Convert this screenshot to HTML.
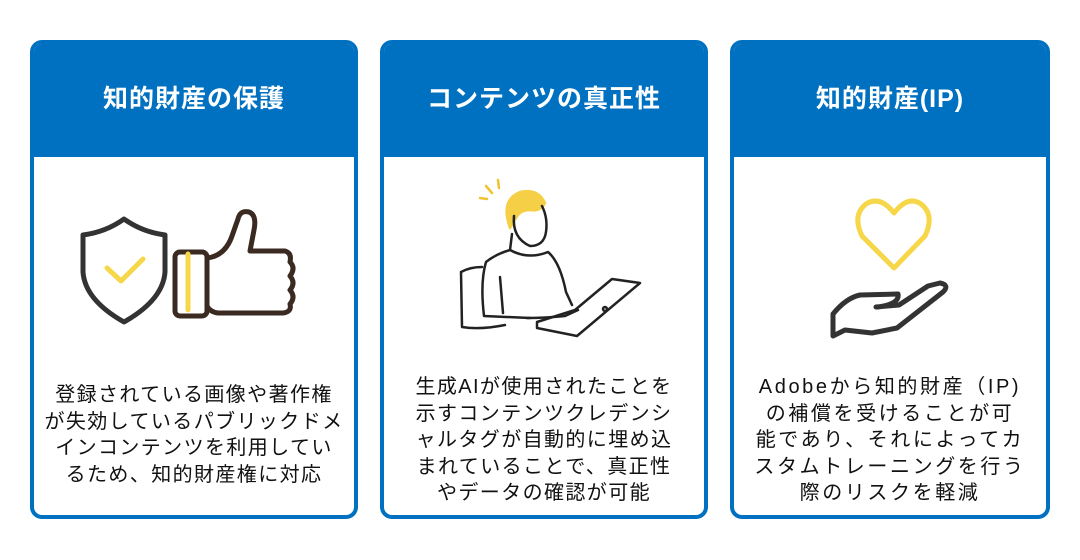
<!DOCTYPE html>
<html><head><meta charset="utf-8"><style>
body{margin:0;width:1080px;height:560px;background:#fff;position:relative;overflow:hidden;font-family:"Liberation Sans","Noto Sans CJK JP",sans-serif;}
.card{position:absolute;top:40px;width:328px;height:479px;box-sizing:border-box;border:4px solid #0070c0;border-radius:12px;background:#fff;overflow:hidden;}
.hd{position:absolute;left:0;top:0;right:0;height:113px;background:#0070c0;color:#fff;font-weight:bold;font-size:25px;text-align:center;line-height:110px;letter-spacing:1px;}
.tx{position:absolute;left:-10px;right:-10px;top:334px;text-align:center;font-size:20px;line-height:26.5px;color:#111;letter-spacing:1.4px;}
svg{position:absolute;}
</style></head><body>
<div class="card" style="left:30px"><div class="hd">知的財産の保護</div>
<div class="tx" style="top:338px">登録されている画像や著作権<br>が失効しているパブリックドメ<br>インコンテンツを利用してい<br>るため、知的財産権に対応</div></div>
<div class="card" style="left:380px"><div class="hd">コンテンツの真正性</div>
<div class="tx" style="top:330px">生成AIが使用されたことを<br>示すコンテンツクレデンシ<br>ャルタグが自動的に埋め込<br>まれていることで、真正性<br>やデータの確認が可能</div></div>
<div class="card" style="left:730px;width:320px"><div class="hd">知的財産(IP)</div>
<div class="tx" style="top:330px;letter-spacing:2.6px">Adobeから知的財産（IP)<br>の補償を受けることが可<br>能であり、それによってカ<br>スタムトレーニングを行う<br>際のリスクを軽減</div></div>

<svg width="1080" height="560" style="left:0;top:0" fill="none" stroke-linecap="round" stroke-linejoin="round">
<path d="M124 219 Q106 232 83 235 L83 272 Q85 300 124 322 Q163 300 165 272 L165 235 Q142 232 124 219Z" stroke="#333" stroke-width="5"/>
<path d="M107 268 L121 281 L143 259" stroke="#f7d74a" stroke-width="5"/>
<rect x="175" y="252" width="32" height="64" rx="5" stroke="#3a2a22" stroke-width="5"/>
<path d="M188 254 V310" stroke="#f7d74a" stroke-width="5"/>
<path d="M207 258 Q225 256 232 236 L238 219 Q240 210 249 212 Q257 215 254 230 L250 251 L285 251 Q292 253 290 262 Q296 268 290 276 Q296 283 290 290 Q296 297 290 304 Q292 312 283 313 L218 313 Q210 312 207 306" stroke="#3a2a22" stroke-width="5"/>
<g stroke="#222" stroke-width="2.5">
<path d="M492 193 L486 186 M499 188 L498 180 M487 199 L480 198" stroke="#f2c230"/>
<path d="M510 228 Q500 200 520 192 Q538 188 545 203 Q540 212 530 210 Q520 210 516 218 Z" fill="#f5cf45" stroke="#f5cf45"/>
<path d="M514 216 Q512 238 530 246 Q544 246 546 232 Q548 218 542 206"/>
<path d="M512 234 L510 250 Q496 254 486 262 Q480 282 484 316 L530 318"/>
<path d="M510 250 Q528 260 548 252 Q560 262 566 292 L572 305"/>
<path d="M461 272 L462 327 Q480 330 505 325 M461 272 Q470 267 482 267"/>
<path d="M500 277 L503 313 M527 318 Q545 318 565 316 L578 310"/>
<path d="M537 328 L577 336 L640 283 L612 279 L575 310 L537 322 Z"/>
<circle cx="605" cy="309" r="2"/>
</g>
<path d="M894 213 Q880 195 866 204 Q852 215 862 236 L894 268 L925 236 Q935 215 921 204 Q908 195 894 213" stroke="#f7d74a" stroke-width="5"/>
<path d="M833 314 L833 336 L845 330 L872 333 L897 328 L943 292 Q950 285 940 283 L928 286 L899 305 L876 307 M878 307 Q900 304 898 294 L860 295 Q846 298 833 314" stroke="#333" stroke-width="5"/>
</svg>
</body></html>
